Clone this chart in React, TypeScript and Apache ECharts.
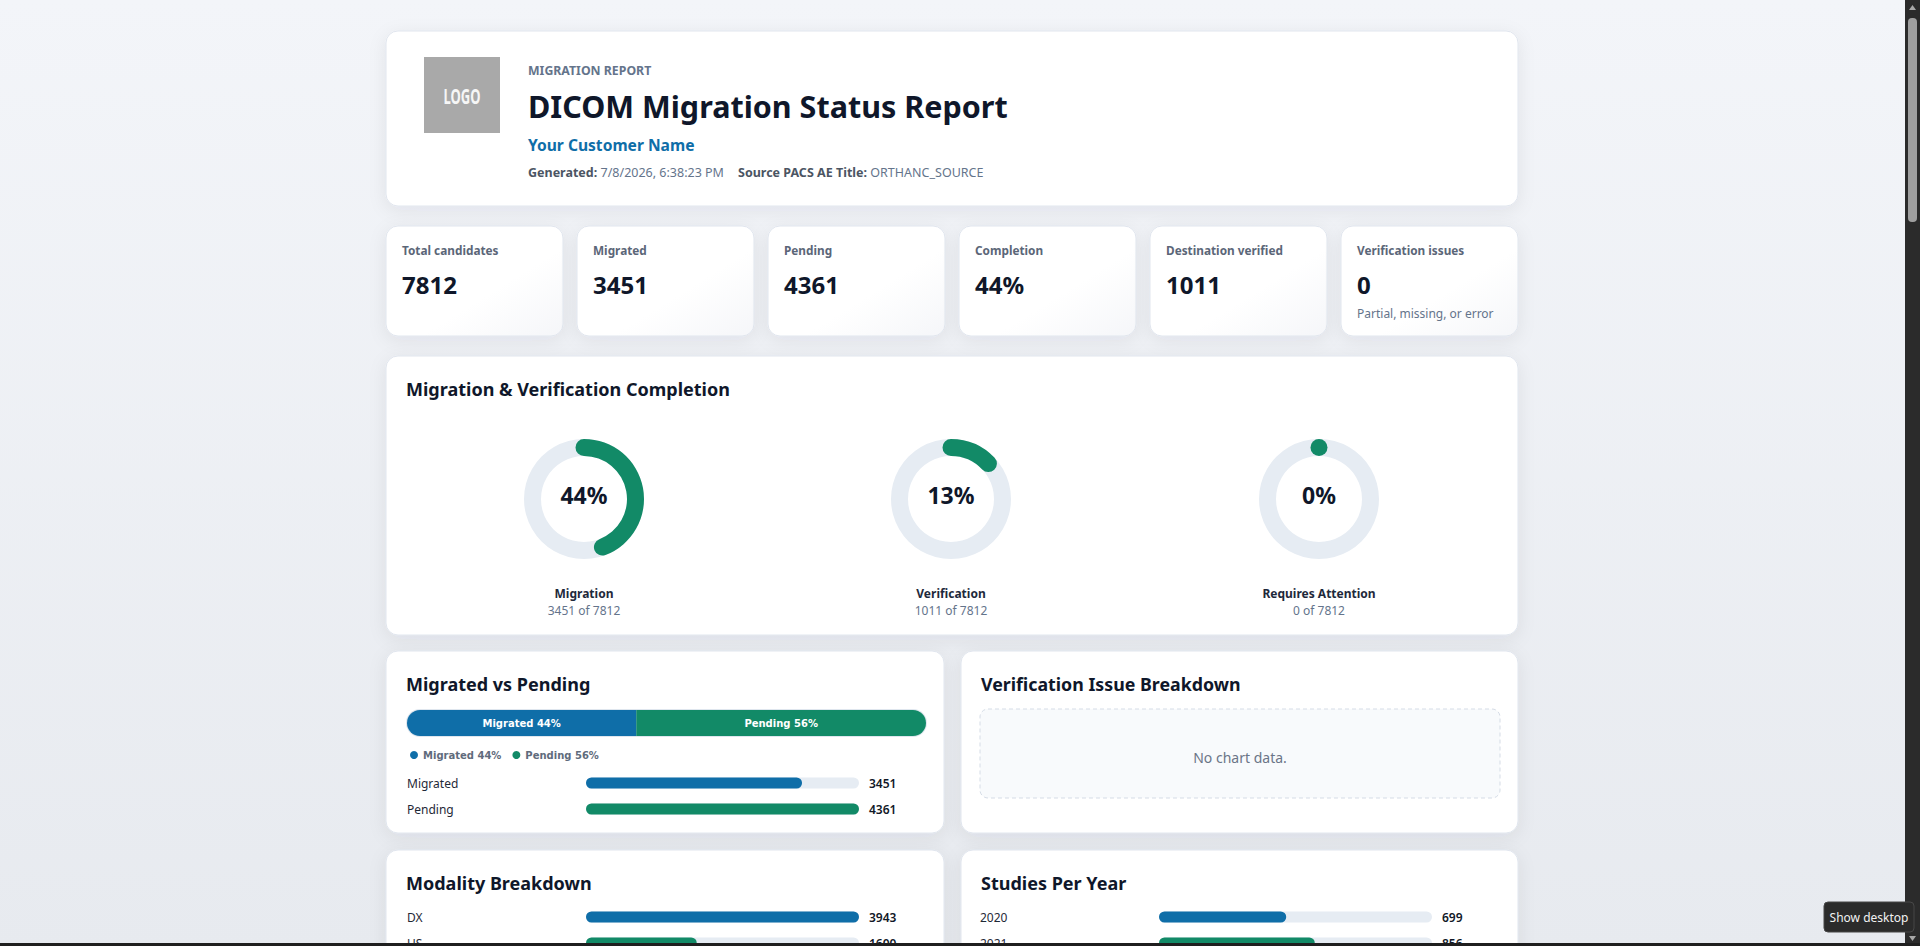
import React, { useEffect, useRef } from 'react';
import * as echarts from 'echarts';

// ---- report data ----
const reportLabel = 'MIGRATION REPORT';
const reportTitle = 'DICOM Migration Status Report';
const customerName = 'Your Customer Name';
const generatedAt = '7/8/2026, 6:38:23 PM';
const sourceAeTitle = 'ORTHANC_SOURCE';

const kpiLabels = ['Total candidates', 'Migrated', 'Pending', 'Completion', 'Destination verified', 'Verification issues'];
const kpiValues = ['7812', '3451', '4361', '44%', '1011', '0'];
const kpiNotes = ['', '', '', '', '', 'Partial, missing, or error'];

const totalCandidates = 7812;
const gaugeNames = ['Migration', 'Verification', 'Requires Attention'];
const gaugeCounts = [3451, 1011, 0];

const splitNames = ['Migrated', 'Pending'];
const splitValues = [3451, 4361];

const modalityNames = ['DX', 'US'];
const modalityValues = [3943, 1600];

const yearNames = ['2020', '2021'];
const yearValues = [699, 856];
const yearScaleMax = 1500;

// ---- styling ----
const FONT = "'Segoe UI', 'Noto Sans', sans-serif";
const BLUE = '#0f6ea8';
const GREEN = '#128a67';
const TRACK = '#e6ecf3';
const INK = '#0f172a';
const MUTED = '#64748b';
const LABEL = '#5b6678';

const pct = (v: number, t: number) => Math.round((v / t) * 100);
const gaugeCenters = [584, 951, 1319];

function card(x: number, y: number, w: number, h: number, r = 12, gradient = false) {
  return {
    type: 'rect',
    shape: { x, y, width: w, height: h, r },
    style: {
      fill: gradient
        ? new echarts.graphic.LinearGradient(0, 0, 1, 1, [
            { offset: 0, color: '#ffffff' },
            { offset: 0.6, color: '#ffffff' },
            { offset: 1, color: '#f5f6f9' },
          ])
        : '#ffffff',
      stroke: '#e1e6ee',
      lineWidth: 1,
      shadowBlur: 18,
      shadowColor: 'rgba(30,41,59,0.07)',
      shadowOffsetY: 4,
    },
    z: 0,
  };
}

function text(x: number, y: number, t: string, size: number, color: string, weight: any = 'normal', align = 'left', family = FONT) {
  return {
    type: 'text',
    x,
    y,
    style: {
      text: t,
      fontSize: size,
      fontWeight: weight,
      fontFamily: family,
      fill: color,
      align,
      verticalAlign: 'middle',
    },
    z: 5,
  };
}

function infoLine(x: number, key: string, value: string) {
  return {
    type: 'text',
    x,
    y: 172,
    z: 5,
    style: {
      text: `{b|${key}} {n|${value}}`,
      verticalAlign: 'middle',
      rich: {
        b: { fontSize: 12.5, fontWeight: 'bold', fontFamily: FONT, fill: '#4b5563' },
        n: { fontSize: 12.5, fontFamily: FONT, fill: MUTED },
      },
    },
  };
}

function buildGraphics() {
  const g: any[] = [];

  // header
  g.push(card(386, 31, 1132, 175));
  g.push({ type: 'rect', shape: { x: 424, y: 57, width: 76, height: 76 }, style: { fill: '#a9a9a9' }, z: 3 });
  g.push({ ...text(462, 96, 'LOGO', 21, '#f6f6f6', 'bold', 'center'), scaleX: 0.62 });
  g.push(text(528, 70, reportLabel, 12.3, MUTED, 'bold'));
  g.push(text(528, 106, reportTitle, 30.5, INK, 'bold'));
  g.push(text(528, 145, customerName, 15.6, BLUE, 'bold'));
  g.push(infoLine(528, 'Generated:', generatedAt));
  g.push(infoLine(738, 'Source PACS AE Title:', sourceAeTitle));

  // KPI cards
  kpiLabels.forEach((lbl, i) => {
    const x = 386 + i * 191;
    g.push(card(x, 226, 177, 110, 12, true));
    g.push(text(x + 16, 250, lbl, 11.8, LABEL, 'bold'));
    g.push(text(x + 16, 284, kpiValues[i], 24, INK, 'bold'));
    if (kpiNotes[i]) g.push(text(x + 16, 313, kpiNotes[i], 12, MUTED));
  });

  // completion card
  g.push(card(386, 356, 1132, 279));
  g.push(text(406, 389, 'Migration & Verification Completion', 18, INK, 'bold'));
  gaugeNames.forEach((n, i) => {
    const cx = gaugeCenters[i];
    g.push(text(cx, 593, n, 12, '#1e293b', 'bold', 'center'));
    g.push(text(cx, 610, `${gaugeCounts[i]} of ${totalCandidates}`, 12, MUTED, 'normal', 'center'));
  });

  // row 1
  g.push(card(386, 651, 558, 182));
  g.push(text(406, 684, 'Migrated vs Pending', 18, INK, 'bold'));
  g.push({
    type: 'rect',
    shape: { x: 406, y: 709, width: 521, height: 28, r: 14 },
    style: { fill: '#dfe6ee' },
    z: 1,
  });
  g.push(card(961, 651, 557, 182));
  g.push(text(981, 684, 'Verification Issue Breakdown', 17.8, INK, 'bold'));
  g.push({
    type: 'rect',
    shape: { x: 980, y: 709, width: 520, height: 89, r: 8 },
    style: { fill: '#f8fafc', stroke: '#d5dce6', lineWidth: 1, lineDash: [4, 3] },
    z: 2,
  });
  g.push(text(1240, 757, 'No chart data.', 14, '#6b7587', 'normal', 'center'));

  // row 2
  g.push(card(386, 850, 558, 240));
  g.push(text(406, 883, 'Modality Breakdown', 18, INK, 'bold'));
  g.push(card(961, 850, 557, 240));
  g.push(text(981, 883, 'Studies Per Year', 18, INK, 'bold'));

  // window scrollbar and taskbar edge
  g.push({ type: 'rect', shape: { x: 1905, y: 0, width: 15, height: 946 }, style: { fill: '#2b2b2b' }, z: 20 });
  g.push({ type: 'rect', shape: { x: 1908, y: 18, width: 9, height: 204, r: 4 }, style: { fill: '#9f9f9f' }, z: 21 });
  g.push({ type: 'polygon', shape: { points: [[1909, 10], [1916, 10], [1912.5, 5]] }, style: { fill: '#a8a8a8' }, z: 21 });
  g.push({ type: 'polygon', shape: { points: [[1909, 936], [1916, 936], [1912.5, 941]] }, style: { fill: '#a8a8a8' }, z: 21 });
  g.push({ type: 'rect', shape: { x: 0, y: 943, width: 1920, height: 60 }, style: { fill: '#1f1f1f' }, z: 20 });
  g.push({
    type: 'rect',
    shape: { x: 1824, y: 902, width: 90, height: 30, r: 4 },
    style: { fill: '#2b2b2b', stroke: '#474747', lineWidth: 1 },
    z: 22,
  });
  g.push({ ...text(1869, 917, 'Show desktop', 12, '#f2f2f2', 'normal', 'center'), z: 23 });

  return g;
}

function rowBars(names: string[], values: number[], grid: number, max: number) {
  return {
    xAxis: { type: 'value', gridIndex: grid, min: 0, max, show: false },
    yLeft: {
      type: 'category',
      gridIndex: grid,
      data: names,
      inverse: true,
      axisLine: { show: false },
      axisTick: { show: false },
      axisLabel: { align: 'left', margin: 179, fontSize: 12, color: '#1f2937', fontFamily: FONT },
    },
    yRight: {
      type: 'category',
      gridIndex: grid,
      position: 'right',
      data: values.map(String),
      inverse: true,
      axisLine: { show: false },
      axisTick: { show: false },
      axisLabel: { align: 'left', margin: 10, fontSize: 12, fontWeight: 600, color: '#111827', fontFamily: FONT },
    },
    series: {
      type: 'bar',
      name: `rows${grid}`,
      barWidth: 11,
      showBackground: true,
      backgroundStyle: { color: TRACK, borderRadius: 6 },
      data: values.map((v, i) => ({ value: v, itemStyle: { color: i % 2 === 0 ? BLUE : GREEN, borderRadius: 6 } })),
    },
  };
}

export default function App() {
  const ref = useRef<HTMLDivElement>(null);

  useEffect(() => {
    document.body.style.margin = '0';
    const chart = echarts.init(ref.current!, undefined, { renderer: 'svg' });

    const rows = [
      rowBars(splitNames, splitValues, 1, Math.max(...splitValues)),
      rowBars(modalityNames, modalityValues, 2, Math.max(...modalityValues)),
      rowBars(yearNames, yearValues, 3, yearScaleMax),
    ];

    const splitTotal = splitValues.reduce((a, b) => a + b, 0);

    const xAxes: any[] = [{ type: 'value', gridIndex: 0, min: 0, max: splitTotal, show: false }];
    const yAxes: any[] = [{ type: 'category', gridIndex: 0, data: ['split'], show: false }];
    rows.forEach((r) => {
      xAxes.push(r.xAxis);
      yAxes.push(r.yLeft);
      yAxes.push(r.yRight);
    });

    const stacked = splitNames.map((n, i) => ({
      type: 'bar',
      name: n,
      stack: 'split',
      xAxisIndex: 0,
      yAxisIndex: 0,
      barWidth: 26,
      data: [splitValues[i]],
      itemStyle: {
        color: i === 0 ? BLUE : GREEN,
        borderRadius: i === 0 ? [13, 0, 0, 13] : [0, 13, 13, 0],
      },
      label: {
        show: true,
        position: 'inside',
        formatter: () => `${n} ${pct(splitValues[i], splitTotal)}%`,
        color: '#ffffff',
        fontSize: 10,
        fontWeight: 'bold',
        fontFamily: "'DejaVu Sans', Verdana, sans-serif",
      },
      z: 3,
    }));

    const gauges = gaugeCounts.map((c, i) => ({
      type: 'gauge',
      center: [gaugeCenters[i], 499],
      radius: 60,
      startAngle: 90,
      endAngle: -270,
      min: 0,
      max: totalCandidates,
      pointer: { show: false },
      axisLine: { roundCap: false, lineStyle: { width: 17, color: [[1, TRACK]] } },
      progress: { show: true, roundCap: true, width: 17, itemStyle: { color: GREEN } },
      splitLine: { show: false },
      axisTick: { show: false },
      axisLabel: { show: false },
      anchor: { show: false },
      title: { show: false },
      detail: {
        show: true,
        offsetCenter: [0, -4],
        formatter: (v: number) => `${pct(v, totalCandidates)}%`,
        fontSize: 23,
        fontWeight: 'bold',
        fontFamily: FONT,
        color: INK,
      },
      data: [{ value: c, name: gaugeNames[i] }],
      z: 4,
    }));

    const option: any = {
      animation: false,
      backgroundColor: new echarts.graphic.LinearGradient(0, 0, 0, 1, [
        { offset: 0, color: '#f3f5f9' },
        { offset: 0.95, color: '#e7eaef' },
        { offset: 1, color: '#e7eaef' },
      ]),
      textStyle: { fontFamily: FONT },
      graphic: buildGraphics(),
      legend: {
        data: splitNames,
        left: 405,
        top: 745,
        icon: 'circle',
        itemWidth: 8,
        itemHeight: 8,
        itemGap: 11,
        selectedMode: false,
        formatter: (name: string) => `${name} ${pct(splitValues[splitNames.indexOf(name)], splitTotal)}%`,
        textStyle: { fontSize: 10, fontWeight: 'bold', color: '#5f6b7c', fontFamily: "'DejaVu Sans', Verdana, sans-serif" },
      },
      grid: [
        { left: 407, top: 710, width: 519, height: 26 },
        { left: 586, top: 770, width: 273, height: 52 },
        { left: 586, top: 904, width: 273, height: 52 },
        { left: 1159, top: 904, width: 273, height: 52 },
      ],
      xAxis: xAxes,
      yAxis: yAxes,
      series: [
        ...stacked,
        ...rows.map((r, k) => ({ ...r.series, xAxisIndex: k + 1, yAxisIndex: 1 + k * 2 })),
        ...gauges,
      ],
    };

    chart.setOption(option);
    return () => chart.dispose();
  }, []);

  return <div ref={ref} style={{ position: 'fixed', left: 0, top: 0, width: 1920, height: 1000 }} />;
}
